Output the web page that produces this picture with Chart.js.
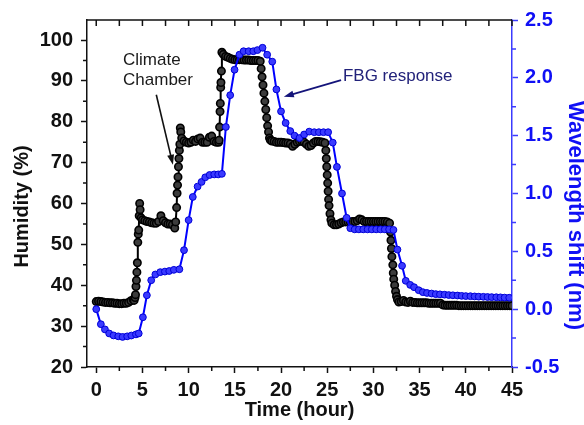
<!DOCTYPE html>
<html><head><meta charset="utf-8">
<script src="https://cdn.jsdelivr.net/npm/chart.js@4.4.1/dist/chart.umd.min.js"></script>
<style>html,body{margin:0;padding:0;background:#fff;}canvas{display:block;}</style>
</head><body>
<canvas id="c" width="584" height="425"></canvas>
<script>
// ---- Climate chamber humidity (%) vs time (hour) ----
const chamberTime = [
  0,0.25,0.5,0.75,1,1.25,1.5,1.75,2,2.25,2.5,2.75,3,3.25,3.5,3.75,4,
  4.1,4.2,4.25,4.3,4.35,4.4,4.45,4.5,4.55,4.6,4.65,4.7,4.75,4.85,
  5,5.25,5.5,5.75,6,6.25,6.5,6.75,7,7.25,7.5,7.75,8,8.25,8.5,8.6,
  8.7,8.75,8.8,8.85,8.9,8.95,9,9.05,9.1,9.15,9.25,
  9.5,9.75,10,10.25,10.5,10.75,11,11.25,11.5,11.75,12,12.25,12.5,12.75,13,13.25,
  13.3,13.35,13.4,13.43,13.47,13.5,13.55,13.6,
  13.75,14,14.25,14.5,14.75,15,15.25,15.5,15.75,16,16.25,16.5,16.75,17,17.25,17.5,17.75,
  17.85,17.95,18.05,18.15,18.25,18.35,18.45,18.55,18.65,18.75,18.85,
  19,19.25,19.5,19.75,20,20.25,20.5,20.75,21,21.25,21.5,21.75,22,22.25,22.5,22.75,23,23.25,23.5,23.75,24,24.25,24.5,24.75,
  24.85,24.9,24.95,25,25.05,25.1,25.15,25.2,25.3,25.4,25.5,
  25.75,26,26.25,26.5,26.75,27,27.25,27.5,27.75,28,28.25,28.5,28.75,29,29.25,29.5,29.75,30,30.25,30.5,30.75,31,31.25,31.5,31.75,
  31.85,31.9,31.95,32,32.1,32.15,32.2,32.3,32.4,32.5,32.6,32.75,
  33,33.25,33.5,33.75,34,34.25,34.5,34.75,35,35.25,35.5,35.75,36,36.25,36.5,36.75,37,37.25,
  37.5,37.75,38,38.25,38.5,38.75,39,
  39.25,39.5,39.75,40,40.25,40.5,40.75,41,41.25,41.5,41.75,42,42.25,42.5,42.75,43,43.25,43.5,43.75,44,44.25,44.5,44.75,45
];
const chamberHumidity = [
  36.0,36.1,36.0,35.9,35.8,35.8,35.7,35.7,35.6,35.6,35.5,35.5,35.6,35.6,35.8,36.2,36.5,
  36.3,37.0,37.7,39.7,41.2,43.2,45.5,50.5,52.5,53.5,57.0,60.0,58.5,56.5,
  56.0,55.8,55.6,55.5,55.3,55.2,55.2,55.6,57.0,55.8,55.3,55.0,55.0,54.8,54.0,55.5,
  59.0,62.5,64.5,66.5,69.0,71.0,73.0,74.5,78.5,77.5,76.0,
  75.3,75.0,74.8,75.0,75.5,75.2,75.8,76.0,75.0,75.0,75.0,76.2,76.5,75.2,75.0,75.0,
  75.5,78.7,82.5,84.5,88.4,89.6,92.4,97.0,
  96.5,96.0,95.8,95.5,95.3,95.2,95.2,95.2,95.2,95.1,95.1,95.1,95.0,95.0,95.0,95.0,94.8,
  93.0,91.0,89.0,87.0,85.0,83.0,81.0,79.0,77.5,76.0,75.5,
  75.3,75.2,75.0,75.0,75.0,74.9,74.8,74.8,74.6,74.0,74.5,75.0,75.2,75.3,75.0,74.5,74.0,74.2,74.8,75.2,75.2,75.1,75.0,74.8,
  73.0,71.0,69.0,67.0,65.0,63.0,61.0,59.5,57.5,56.0,55.2,
  54.8,54.8,55.0,55.3,55.5,55.5,55.5,55.5,55.6,55.6,55.8,56.2,56.0,55.6,55.6,55.6,55.6,55.6,55.6,55.6,55.6,55.6,55.6,55.5,55.2,
  53.0,51.0,49.0,47.0,45.0,43.0,41.5,40.0,38.5,37.3,36.5,35.9,
  36.0,36.3,35.9,35.8,36.1,35.8,35.8,35.7,35.7,35.7,35.7,35.7,35.6,35.6,35.6,35.6,35.6,35.6,
  35.2,35.1,35.1,35.1,35.1,35.1,35.1,
  35.0,35.0,35.0,35.0,35.0,35.0,35.0,35.0,35.0,35.0,35.0,35.0,35.0,35.0,35.0,35.0,35.0,35.0,35.0,35.0,35.0,35.0,35.0,35.0
];
// ---- FBG wavelength shift (nm) vs time (hour) ----
const fbgTime = [
  0,0.5,0.94,1.4,1.87,2.38,2.85,3.35,3.8,4.3,
  4.6,5.05,5.48,5.95,6.4,6.93,7.43,7.9,8.4,9.0,
  9.5,10.0,10.45,10.97,11.4,11.8,12.27,12.77,13.2,13.6,
  14.03,14.5,14.97,15.5,15.95,16.5,17.0,17.45,18.0,18.5,
  19.05,19.5,20.0,20.5,21.0,21.46,22.0,22.5,23.05,23.6,
  24.1,24.6,25.1,25.6,26.05,26.6,27.1,27.5,27.97,28.43,
  28.9,29.37,29.83,30.3,30.77,31.23,31.7,32.17,32.6,33.1,
  33.5,33.98,34.4,34.9,35.35,35.8,36.3,36.75,37.2,37.7,
  38.15,38.6,39.1,39.55,40.0,40.5,40.95,41.4,41.9,42.35,
  42.8,43.3,43.75,44.2,44.7
];
const fbgShift = [
  0.0,-0.13,-0.175,-0.21,-0.227,-0.235,-0.24,-0.235,-0.228,-0.218,
  -0.21,-0.07,0.12,0.25,0.30,0.32,0.325,0.33,0.34,0.345,
  0.51,0.77,0.97,1.06,1.10,1.14,1.16,1.165,1.165,1.17,
  1.575,1.85,2.07,2.20,2.23,2.23,2.23,2.24,2.26,2.20,
  2.14,1.90,1.71,1.61,1.54,1.50,1.48,1.51,1.535,1.53,
  1.53,1.53,1.53,1.44,1.23,1.0,0.79,0.70,0.69,0.69,
  0.69,0.69,0.69,0.69,0.69,0.69,0.69,0.685,0.515,0.375,
  0.245,0.21,0.19,0.164,0.147,0.14,0.135,0.13,0.128,0.125,
  0.122,0.12,0.118,0.115,0.113,0.112,0.11,0.108,0.107,0.105,
  0.104,0.103,0.102,0.1,0.099
];
// ---- tick labels ----
const timeTicks = [0,5,10,15,20,25,30,35,40,45];
const humidityTicks = [20,30,40,50,60,70,80,90,100];
const shiftTicks = [-0.5,0,0.5,1,1.5,2,2.5];

const FONT = "'Liberation Sans', Arial, sans-serif";
const BLUE = '#1010f5';
const AXISBLUE = '#3b3bff';

// annotation anchors in data units
const notes = {
  climate: {x: 2.9, y1: 93.8, y2: 88.9, ax1: 6.5, ay1: 86.6, ax2: 8.3, ay2: 69.5},
  fbg: {x: 26.7, y: 1.97, ax1: 26.5, ay1: 1.98, ax2: 20.3, ay2: 1.836}
};

function arrow(ctx, x1, y1, x2, y2, color, w, hl, hw) {
  const a = Math.atan2(y2 - y1, x2 - x1), c = Math.cos(a), s = Math.sin(a);
  ctx.strokeStyle = color; ctx.fillStyle = color; ctx.lineWidth = w;
  ctx.beginPath(); ctx.moveTo(x1, y1); ctx.lineTo(x2 - hl * 0.7 * c, y2 - hl * 0.7 * s); ctx.stroke();
  ctx.beginPath(); ctx.moveTo(x2, y2);
  ctx.lineTo(x2 - hl * c + hw * s, y2 - hl * s - hw * c);
  ctx.lineTo(x2 - hl * c - hw * s, y2 - hl * s + hw * c);
  ctx.closePath(); ctx.fill();
}

const decor = {
  id: 'decor',
  beforeDraw(chart) {
    const c = chart.ctx; c.save(); c.fillStyle = '#fff'; c.fillRect(0, 0, chart.width, chart.height); c.restore();
  },
  afterDraw(chart) {
    const {ctx, chartArea: a, scales} = chart;
    const x = scales.x, yH = scales.yH, yW = scales.yW;
    ctx.save();
    ctx.lineCap = 'butt';
    ctx.strokeStyle = '#111'; ctx.lineWidth = 1.5;
    ctx.beginPath();
    ctx.moveTo(a.left, a.top); ctx.lineTo(a.right, a.top);
    timeTicks.forEach((v, i) => {
      const p = x.getPixelForValue(v);
      ctx.moveTo(p, a.top); ctx.lineTo(p, a.top + 6);
      if (i < timeTicks.length - 1) {
        const m = x.getPixelForValue((v + timeTicks[i + 1]) / 2);
        ctx.moveTo(m, a.top); ctx.lineTo(m, a.top + 6);
        ctx.moveTo(m, a.bottom); ctx.lineTo(m, a.bottom + 4);
      }
    });
    humidityTicks.forEach((v, i) => {
      if (i < humidityTicks.length - 1) {
        const m = yH.getPixelForValue((v + humidityTicks[i + 1]) / 2);
        ctx.moveTo(a.left, m); ctx.lineTo(a.left - 4, m);
      }
    });
    ctx.stroke();
    ctx.strokeStyle = AXISBLUE;
    ctx.beginPath();
    shiftTicks.forEach((v, i) => {
      if (i < shiftTicks.length - 1) {
        const m = yW.getPixelForValue((v + shiftTicks[i + 1]) / 2);
        ctx.moveTo(a.right, m); ctx.lineTo(a.right + 4, m);
      }
    });
    ctx.stroke();

    ctx.font = 'bold 20px ' + FONT;
    ctx.textAlign = 'center'; ctx.textBaseline = 'middle';
    ctx.fillStyle = '#111';
    ctx.save(); ctx.translate(22, (a.top + a.bottom) / 2 + 13); ctx.rotate(-Math.PI / 2);
    ctx.fillText('Humidity (%)', 0, 0); ctx.restore();
    ctx.font = 'bold 22px ' + FONT;
    ctx.fillStyle = BLUE;
    ctx.save(); ctx.translate(575, (a.top + a.bottom) / 2 + 22); ctx.rotate(Math.PI / 2);
    ctx.fillText('Wavelength shift (nm)', 0, 0); ctx.restore();

    const cl = notes.climate;
    ctx.font = '17px ' + FONT; ctx.textAlign = 'left'; ctx.textBaseline = 'alphabetic';
    ctx.fillStyle = '#1a1a1a';
    ctx.fillText('Climate', x.getPixelForValue(cl.x), yH.getPixelForValue(cl.y1));
    ctx.fillText('Chamber', x.getPixelForValue(cl.x), yH.getPixelForValue(cl.y2));
    arrow(ctx, x.getPixelForValue(cl.ax1), yH.getPixelForValue(cl.ay1),
      x.getPixelForValue(cl.ax2), yH.getPixelForValue(cl.ay2), '#111', 1.6, 10, 3.5);
    const fb = notes.fbg;
    ctx.fillStyle = '#22227a';
    ctx.fillText('FBG response', x.getPixelForValue(fb.x), yW.getPixelForValue(fb.y));
    arrow(ctx, x.getPixelForValue(fb.ax1), yW.getPixelForValue(fb.ay1),
      x.getPixelForValue(fb.ax2), yW.getPixelForValue(fb.ay2), '#14147a', 1.8, 10, 3.5);
    ctx.restore();
  }
};

const tickFont = {family: FONT, weight: 'bold', size: 20};
const ticksFrom = arr => (s => { s.ticks = arr.map(v => ({value: v})); });

new Chart(document.getElementById('c'), {
  type: 'scatter',
  data: {
    datasets: [
      {
        label: 'Climate Chamber', yAxisID: 'yH', order: 2,
        data: chamberTime.map((t, i) => ({x: t, y: chamberHumidity[i]})),
        showLine: true, borderColor: '#000', borderWidth: 2,
        pointRadius: 3.7, pointBorderWidth: 1.6, pointBorderColor: '#000', pointBackgroundColor: '#3c3c3c'
      },
      {
        label: 'FBG response', yAxisID: 'yW', order: 1,
        data: fbgTime.map((t, i) => ({x: t, y: fbgShift[i]})),
        showLine: true, borderColor: '#0000ff', borderWidth: 2,
        pointRadius: 3.4, pointBorderWidth: 1, pointBorderColor: '#0000d8', pointBackgroundColor: '#3a3aff'
      }
    ]
  },
  options: {
    responsive: false, animation: false, devicePixelRatio: 1,
    layout: {padding: {top: 18, left: 0, right: 0, bottom: 0}},
    plugins: {legend: {display: false}, tooltip: {enabled: false}},
    scales: {
      x: {
        type: 'linear', position: 'bottom', min: -1, max: 45,
        afterBuildTicks: ticksFrom(timeTicks),
        afterFit: s => { s.height = 58; },
        ticks: {color: '#111', font: tickFont, padding: 5, maxRotation: 0, autoSkip: false},
        grid: {display: true, drawOnChartArea: false, drawTicks: true, tickLength: 6, color: '#111', tickWidth: 1.5},
        border: {display: true, color: '#111', width: 1.5},
        title: {display: true, text: 'Time (hour)', color: '#111', font: {family: FONT, weight: 'bold', size: 20}, padding: {top: 0, bottom: 3}}
      },
      yH: {
        type: 'linear', position: 'left', min: 20, max: 104.9,
        afterBuildTicks: ticksFrom(humidityTicks),
        afterFit: s => { s.width = 87; },
        ticks: {color: '#111', font: tickFont, padding: 8, autoSkip: false},
        grid: {display: true, drawOnChartArea: false, drawTicks: true, tickLength: 6, color: '#111', tickWidth: 1.5},
        border: {display: true, color: '#111', width: 1.5},
        title: {display: false}
      },
      yW: {
        type: 'linear', position: 'right', min: -0.5, max: 2.5,
        afterBuildTicks: ticksFrom(shiftTicks),
        afterFit: s => { s.width = 72; },
        ticks: {color: BLUE, font: tickFont, padding: 7, autoSkip: false, callback: v => v.toFixed(1)},
        grid: {display: true, drawOnChartArea: false, drawTicks: true, tickLength: 6, color: AXISBLUE, tickWidth: 1.5},
        border: {display: true, color: AXISBLUE, width: 1.5},
        title: {display: false}
      }
    }
  },
  plugins: [decor]
});
</script>
</body></html>
